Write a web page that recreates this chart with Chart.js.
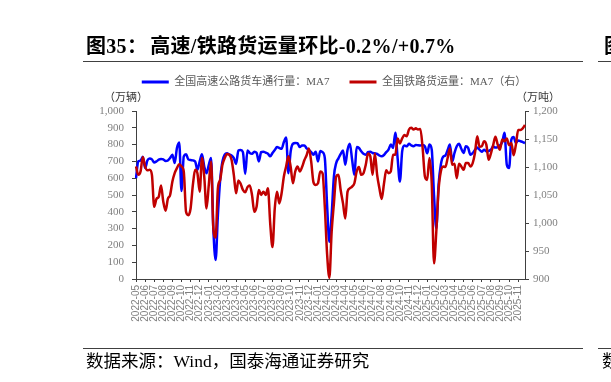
<!DOCTYPE html>
<html>
<head>
<meta charset="utf-8">
<script src="https://cdn.jsdelivr.net/npm/chart.js@4.4.1/dist/chart.umd.min.js"></script>
<style>
  html, body { margin: 0; padding: 0; background: #fff; width: 611px; height: 382px; overflow: hidden; position: relative; }
  canvas { position: absolute; left: 0; top: 0; }
  .t { position: absolute; white-space: nowrap; font-family: "Liberation Serif", "Noto Sans CJK SC", serif; z-index: 2; }
  .rule { position: absolute; height: 1px; background: #404040; z-index: 2; }
  #title { left: 86px; top: 36px; font-size: 20px; line-height: 20px; font-weight: bold; color: #000; letter-spacing: 0.3px; }
  #src { left: 86px; top: 352px; font-size: 17.5px; line-height: 18px; color: #000; }
  .unit { top: 91px; font-size: 11px; line-height: 12px; color: #333; }
</style>
</head>
<body>
<canvas id="myChart" width="611" height="382"></canvas>
<div class="t" id="title">图35：<span style="margin-left:3px">高速/铁路货运量环比-0.2%/+0.7%</span></div>
<div class="rule" style="left:83px; width:500px; top:61px"></div>
<div class="t" style="left:604px; top:36px; font-size:20px; line-height:20px; font-weight:bold">图</div>
<div class="rule" style="left:598px; width:13px; top:61px"></div>
<div class="t unit" style="left:104px">（万辆）</div>
<div class="t unit" style="left:516px">（万吨）</div>
<div class="rule" style="left:83px; width:500px; top:348px"></div>
<div class="rule" style="left:598px; width:13px; top:348px"></div>
<div class="t" id="src">数据来源：Wind，国泰海通证券研究</div>
<div class="t" style="left:602px; top:352px; font-size:17.5px; line-height:18px">数</div>
<script>
// month tick labels, 4 weekly points per month
var months = ["2022-05", "2022-06", "2022-07", "2022-08", "2022-09", "2022-10", "2022-11", "2022-12",
  "2023-01", "2023-02", "2023-03", "2023-04", "2023-05", "2023-06", "2023-07", "2023-08", "2023-09", "2023-10", "2023-11", "2023-12",
  "2024-01", "2024-02", "2024-03", "2024-04", "2024-05", "2024-06", "2024-07", "2024-08", "2024-09", "2024-10", "2024-11", "2024-12",
  "2025-01", "2025-02", "2025-03", "2025-04", "2025-05", "2025-06", "2025-07", "2025-08", "2025-09", "2025-10", "2025-11"];
var weeks = months.flatMap(function (m) { return [m + "-w1", m + "-w2", m + "-w3", m + "-w4"]; });

// 全国高速公路货车通行量:MA7 (万辆)
var truckMA7 = [
  600, 700, 705, 728, 660, 705, 718, 712, 694, 700, 710, 714,
  712, 702, 705, 720, 740, 690, 780, 813, 524, 730, 742, 712,
  708, 706, 700, 650, 700, 742, 670, 630, 680, 720, 300, 113,
  380, 590, 700, 740, 748, 742, 735, 720, 685, 765, 768, 755,
  625, 765, 750, 745, 758, 752, 700, 755, 758, 752, 745, 730,
  750, 768, 785, 780, 775, 815, 843, 630, 760, 805, 809, 808,
  785, 795, 795, 778, 768, 755, 740, 758, 700, 762, 755, 720,
  440, 222, 380, 610, 690, 718, 745, 765, 680, 770, 805, 710,
  620, 785, 780, 760, 745, 740, 755, 758, 750, 748, 745, 735,
  730, 738, 755, 770, 800, 780, 870, 720, 580, 760, 795, 790,
  805, 795, 790, 798, 796, 795, 798, 790, 748, 800, 770, 500,
  300, 560, 680, 728, 735, 768, 800, 700, 750, 790, 805, 775,
  750, 790, 780, 740, 750, 768, 782, 770, 758, 770, 760, 762,
  770, 788, 782, 785, 795, 815, 870, 680, 660, 830, 845, 810,
  825, 820, 815, 809
];

// 全国铁路货运量:MA7 (万吨, 右轴)
var railMA7 = [
  1101, 1086, 1092, 1118, 1101, 1094, 1095, 1086, 1029, 1043, 1047, 1067,
  1038, 1022, 1043, 1050, 1074, 1089, 1098, 1105, 1101, 1092, 1020, 1014,
  1026, 1068, 1095, 1089, 1056, 1116, 1083, 1026, 1068, 1110, 990, 974,
  1062, 1077, 1104, 1116, 1123, 1122, 1113, 1086, 1053, 1076, 1070, 1059,
  1055, 1064, 1067, 1050, 1020, 1029, 1059, 1050, 1056, 1050, 1062, 999,
  957, 1026, 1056, 1035, 1053, 1083, 1101, 1119, 1100, 1071, 1092, 1101,
  1092, 1100, 1112, 1121, 1133, 1110, 1073, 1068, 1071, 1092, 1089, 1029,
  945, 902, 984, 1035, 1083, 1086, 1058, 1035, 1008, 1056, 1062, 1065,
  1071, 1092, 1100, 1086, 1089, 1104, 1124, 1119, 1086, 1124, 1086, 1062,
  1043, 1070, 1094, 1089, 1092, 1122, 1122, 1151, 1142, 1151, 1157, 1155,
  1167, 1170, 1167, 1169, 1167, 1168, 1134, 1083, 1077, 1116, 1071, 928,
  984, 1059, 1092, 1101, 1100, 1116, 1133, 1104, 1106, 1080, 1106, 1101,
  1095, 1107, 1107, 1101, 1107, 1125, 1155, 1136, 1137, 1146, 1140, 1113,
  1124, 1139, 1154, 1140, 1131, 1149, 1146, 1151, 1139, 1143, 1121, 1140,
  1166, 1166, 1169, 1175
];

Chart.defaults.font.family = '"Liberation Serif", "Noto Sans CJK SC", serif';
Chart.defaults.color = "#7f7f7f";

// push the plot area down a little below the legend
var legendGap = {
  id: "legendGap",
  beforeInit: function (chart) {
    var legend = chart.legend;
    var fit = legend.fit;
    legend.fit = function () { fit.call(this); this.height += 13.5; };
  }
};

var axisColor = "#404040";

var ctx = document.getElementById("myChart").getContext("2d");
var myChart = new Chart(ctx, {
  type: "line",
  data: {
    labels: weeks,
    datasets: [{
      label: "全国高速公路货车通行量：MA7",
      data: truckMA7,
      borderColor: "#0000ff",
      backgroundColor: "#0000ff",
      borderWidth: 2.5,
      pointRadius: 0,
      cubicInterpolationMode: "monotone",
      yAxisID: "y",
      order: 1
    }, {
      label: "全国铁路货运量：MA7（右）",
      data: railMA7,
      borderColor: "#c00000",
      backgroundColor: "#c00000",
      borderWidth: 2.5,
      pointRadius: 0,
      cubicInterpolationMode: "monotone",
      yAxisID: "y1",
      order: 0
    }]
  },
  options: {
    responsive: false,
    animation: false,
    devicePixelRatio: 1,
    layout: { padding: { left: 95, right: 38, top: 56.5, bottom: 40 } },
    plugins: {
      legend: {
        labels: {
          boxWidth: 27,
          boxHeight: 3,
          padding: 20,
          color: "#595959",
          font: { size: 11 },
          sort: function (a, b) { return a.datasetIndex - b.datasetIndex; },
          generateLabels: function (chart) {
            return Chart.defaults.plugins.legend.labels.generateLabels(chart).map(function (item) {
              item.lineWidth = 0;
              return item;
            });
          }
        }
      },
      tooltip: { enabled: false }
    },
    scales: {
      x: {
        grid: { drawOnChartArea: false, tickLength: 3, tickColor: axisColor },
        border: { color: axisColor },
        afterFit: function (scale) { scale.height = 63; },
        ticks: {
          autoSkip: false,
          maxRotation: 90,
          minRotation: 90,
          padding: 3,
          color: "#808080",
          font: { family: '"Liberation Sans", sans-serif', size: 10 },
          callback: function (value, index) { return index % 4 === 0 ? months[index / 4] : null; }
        }
      },
      y: {
        position: "left",
        min: 0,
        max: 1000,
        grid: { drawOnChartArea: false, tickLength: 4, tickColor: axisColor },
        border: { color: axisColor },
        afterFit: function (scale) { scale.width = 41; },
        ticks: { stepSize: 100, padding: 8, font: { size: 11 } }
      },
      y1: {
        position: "right",
        min: 900,
        max: 1200,
        grid: { drawOnChartArea: false, tickLength: 4, tickColor: axisColor },
        border: { color: axisColor },
        afterFit: function (scale) { scale.width = 48; },
        ticks: { stepSize: 50, padding: 4, font: { size: 11 } }
      }
    }
  },
  plugins: [legendGap]
});
</script>
</body>
</html>
